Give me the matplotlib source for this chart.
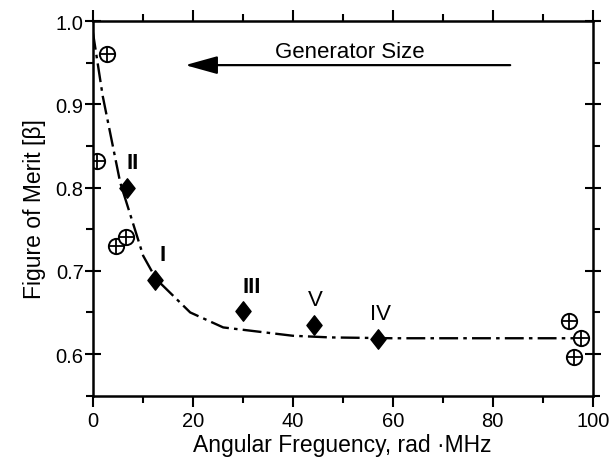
import matplotlib
matplotlib.use("Agg")
import matplotlib.pyplot as plt
from matplotlib.ticker import MultipleLocator, FormatStrFormatter
from matplotlib.path import Path

plt.rcParams['font.family'] = ['Liberation Sans', 'DejaVu Sans']

# Data
diamond_x = [6.9, 12.5, 30.1, 44.3, 57.1]
diamond_y = [0.800, 0.689, 0.652, 0.635, 0.618]
diamond_labels = ['II', 'I', 'III', 'V', 'IV']
label_weights = ['bold', 'bold', 'bold', 'normal', 'normal']

circle_x = [2.9, 0.9, 4.7, 6.7, 95.3, 97.7, 96.3]
circle_y = [0.960, 0.832, 0.730, 0.740, 0.640, 0.619, 0.597]

curve_x = [0.0, 2.0, 5.5, 10.1, 12.7, 19.5, 26.1, 40.0, 47.5, 60.0, 80.0, 97.0]
curve_y = [0.988, 0.910, 0.806, 0.718, 0.690, 0.650, 0.632, 0.622, 0.620, 0.619, 0.619, 0.619]

label_offsets = [(1.0, 0.030), (1.4, 0.030), (1.7, 0.029), (0.2, 0.030), (0.5, 0.031)]

fig = plt.figure(figsize=(6.15, 4.64), dpi=100)
ax = fig.add_axes([92.7/615, 1-396.7/464, 500/615, 374.7/464])

diamond_marker = Path([(0, 1), (0.78, 0), (0, -1), (-0.78, 0), (0, 1)],
                      [Path.MOVETO, Path.LINETO, Path.LINETO, Path.LINETO, Path.CLOSEPOLY])

ax.plot(curve_x, curve_y, color='black', lw=1.7, linestyle=(0, (8, 2.2, 1.5, 2.2)))
ax.plot(diamond_x, diamond_y, linestyle='none', marker=diamond_marker, color='black', ms=14)
ax.plot(circle_x, circle_y, linestyle='none', marker='o', mfc='white', mec='black',
        ms=11, mew=1.4)
ax.plot(circle_x, circle_y, linestyle='none', marker='+', color='black', ms=11, mew=1.3)

for x, y, lab, w, (dx, dy) in zip(diamond_x, diamond_y, diamond_labels, label_weights, label_offsets):
    ax.text(x + dx, y + dy, lab, fontsize=16, fontweight=w, ha='center', va='center')

ax.annotate('', xy=(18.5, 0.947), xytext=(83.5, 0.947),
            arrowprops=dict(arrowstyle='-|>,head_length=0.9,head_width=0.25', color='black',
                            lw=1.6, mutation_scale=22, shrinkA=0, shrinkB=0))
ax.text(51.5, 0.957, 'Generator Size', fontsize=16, ha='center', va='baseline')

ax.set_xlim(0, 100)
ax.set_ylim(0.55, 1.0)
ax.xaxis.set_major_locator(MultipleLocator(20))
ax.xaxis.set_minor_locator(MultipleLocator(10))
ax.yaxis.set_major_locator(MultipleLocator(0.1))
ax.yaxis.set_minor_locator(MultipleLocator(0.05))
ax.yaxis.set_major_formatter(FormatStrFormatter('%.1f'))

ax.tick_params(which='both', direction='out', width=1.5, labelsize=14.5,
               top=True, right=True)
ax.tick_params(which='major', length=8)
ax.tick_params(which='minor', length=5)
ax.tick_params(axis='y', which='major', direction='inout', length=11, pad=1)
ax.tick_params(axis='x', which='major', pad=3)
for s in ax.spines.values():
    s.set_linewidth(1.8)

ax.set_xlabel('Angular Freguency, rad \u00b7MHz', fontsize=16.5, labelpad=2)
ax.set_ylabel('Figure of Merit [\u03b2]', fontsize=16.5, labelpad=7)

fig.savefig('out.png', dpi=100)
